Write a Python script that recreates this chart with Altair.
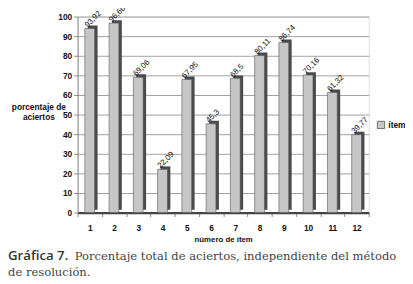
import altair as alt
import pandas as pd

items = ["1", "2", "3", "4", "5", "6", "7", "8", "9", "10", "11", "12"]
values = [93.92, 96.66, 69.06, 22.09, 67.95, 45.3, 68.5, 80.11, 86.74, 70.16, 61.32, 39.77]
labels = ["93,92", "96,66", "69,06", "22,09", "67,95", "45,3", "68,5", "80,11", "86,74", "70,16", "61,32", "39,77"]
series = ["ítem"] * len(items)
y_ticks = [0, 10, 20, 30, 40, 50, 60, 70, 80, 90, 100]

df = pd.DataFrame({"item": items, "value": values, "label": labels, "serie": series})

W, H = 297, 200
SANS = "Liberation Sans"

x_enc = alt.X("item:O", sort=items,
              axis=alt.Axis(title="número de ítem", labelAngle=0, labelFont=SANS, labelFontWeight="bold",
                            labelFontSize=8.5, labelColor="#111", titleFont=SANS, titleFontSize=8,
                            titleFontWeight="bold", titleColor="#111", titlePadding=4, tickBand="extent",
                            domainColor="#444", domainWidth=2.5, tickColor="#888", labelPadding=7,
                            tickSize=4),
              scale=alt.Scale(paddingInner=0.0, paddingOuter=0.0))
y_enc = alt.Y("value:Q",
              scale=alt.Scale(domain=[0, 100], nice=False),
              axis=alt.Axis(values=y_ticks, title=["porcentaje de", "aciertos"],
                            titleAngle=0, titleAlign="center", titleBaseline="middle",
                            titleX=-40, titleY=92, titleFont=SANS, titleFontSize=8.5,
                            titleFontWeight="bold", titleColor="#111", labelFont=SANS,
                            labelFontSize=8.5, labelFontWeight="bold", labelColor="#111",
                            labelOverlap=False,
                            domainColor="#888", tickColor="#888", tickSize=4, labelPadding=2,
                            grid=True, gridColor="#a0a0a0", gridWidth=1))

base = alt.Chart(df)

side = base.mark_bar(size=10, color="#4a4a4a", xOffset=3, yOffset=-3).encode(
    x=x_enc, y=y_enc)

front = base.mark_bar(size=10, stroke="#555", strokeWidth=0.6).encode(
    x=x_enc, y=y_enc,
    color=alt.Color("serie:N", scale=alt.Scale(range=["#c6c6c6"]),
                    legend=alt.Legend(title=None, orient="none", legendX=305, legendY=106,
                                      symbolType="square", symbolSize=55, symbolStrokeColor="#555",
                                      symbolStrokeWidth=0.8, labelFont=SANS, labelFontSize=8.5,
                                      labelOffset=3,
                                      labelFontWeight="bold", labelColor="#111")))

text = base.mark_text(angle=315, align="left", baseline="middle", dx=-1, dy=-4,
                      font=SANS, fontSize=8, color="#111").encode(
    x=x_enc, y=y_enc, text="label:N")

cap1 = alt.Chart(pd.DataFrame({"t": ["Gráfica 7."]})).mark_text(
    align="left", baseline="middle", font="Open Sans", fontWeight=600, fontSize=13.5,
    color="#333").encode(x=alt.value(-71), y=alt.value(H + 44), text="t:N")
cap2 = alt.Chart(pd.DataFrame({"t": ["Porcentaje total de aciertos, independiente del método"]})).mark_text(
    align="left", baseline="middle", font="DejaVu Serif", fontSize=11.8,
    color="#444").encode(x=alt.value(-71 + 68), y=alt.value(H + 44), text="t:N")
cap3 = alt.Chart(pd.DataFrame({"t": ["de resolución."]})).mark_text(
    align="left", baseline="middle", font="DejaVu Serif", fontSize=11.8,
    color="#444").encode(x=alt.value(-71), y=alt.value(H + 61), text="t:N")

chart = alt.layer(side, front, text, cap1, cap2, cap3).properties(
    width=W, height=H,
    autosize=alt.AutoSizeParams(type="none"),
    padding={"left": 71, "top": 6, "right": 37, "bottom": 66},
).configure_view(stroke=None).configure(background="white")

chart.save("out.html", embed_options={"renderer": "svg", "actions": False})
